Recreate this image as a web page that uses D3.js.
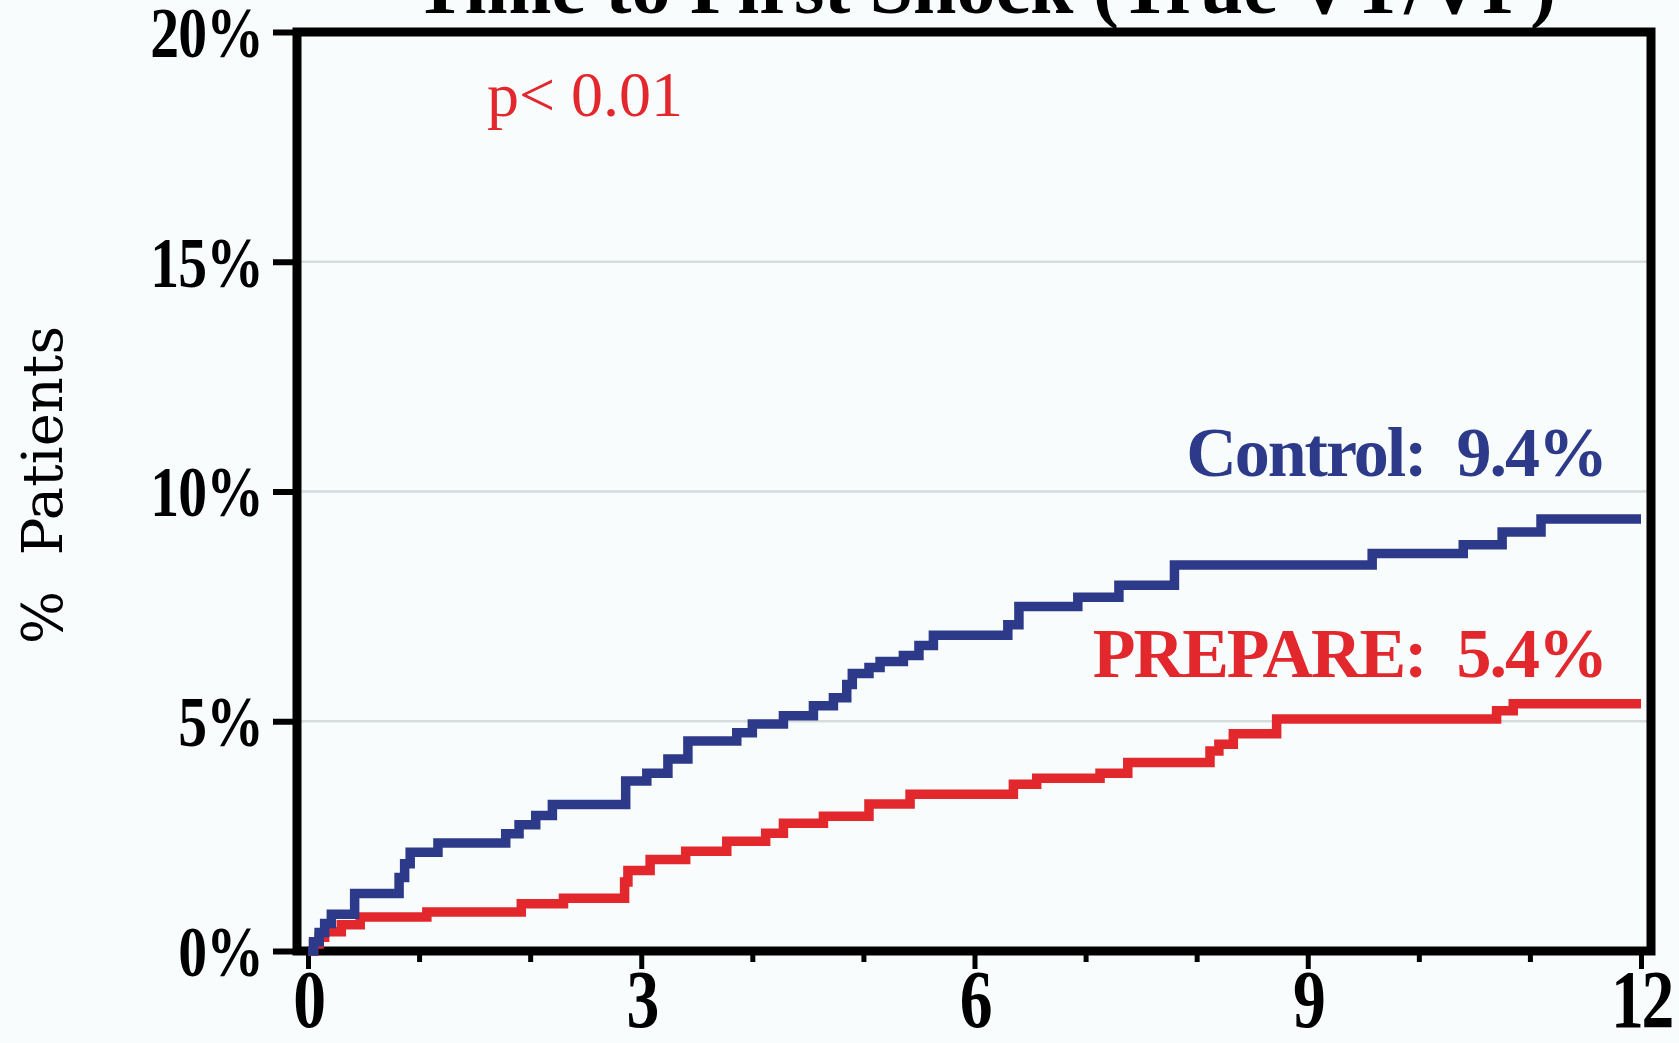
<!DOCTYPE html>
<html>
<head>
<meta charset="utf-8">
<script src="https://cdn.jsdelivr.net/npm/d3@7"></script>
<style>
  body { margin: 0; background: #f9fcfd; }
  svg { display: block; }
</style>
</head>
<body>
<div id="canvas"></div>
<script>
"use strict"

/* ---------- data: months since randomisation, cumulative % shocked (step after) ---------- */
let controlMonths = [0, 0.05, 0.1, 0.15, 0.21, 0.42, 0.82, 0.87, 0.92, 1.17, 1.78, 1.9, 2.05, 2.2,
  2.86, 3.05, 3.24, 3.42, 3.86, 4.0, 4.28, 4.55, 4.73, 4.85, 4.9, 5.05, 5.15, 5.36, 5.5, 5.63,
  6.3, 6.4, 6.93, 7.3, 7.8, 9.58, 10.4, 10.75, 11.1, 12];
let controlPct = [0, 0.2, 0.4, 0.6, 0.8, 1.25, 1.6, 1.9, 2.15, 2.35, 2.55, 2.75, 2.95, 3.19,
  3.7, 3.87, 4.18, 4.57, 4.75, 4.94, 5.12, 5.34, 5.51, 5.8, 6.04, 6.17, 6.3, 6.43, 6.65, 6.87,
  7.1, 7.5, 7.7, 7.96, 8.4, 8.65, 8.84, 9.12, 9.4, 9.4];

let prepareMonths = [0, 0.05, 0.1, 0.15, 0.3, 0.47, 1.07, 1.92, 2.3, 2.85, 2.88, 3.08, 3.4, 3.77,
  4.12, 4.28, 4.64, 5.05, 5.42, 6.35, 6.56, 7.13, 7.38, 8.12, 8.2, 8.33, 8.72, 10.7, 10.85, 12];
let preparePct = [0, 0.15, 0.3, 0.42, 0.57, 0.74, 0.85, 1.03, 1.15, 1.5, 1.75, 1.99, 2.17, 2.39,
  2.56, 2.78, 2.93, 3.2, 3.41, 3.63, 3.76, 3.87, 4.1, 4.35, 4.5, 4.73, 5.05, 5.23, 5.38, 5.38];

let xTicks = d3.range(0, 13);
let xLabels = [0, 3, 6, 9, 12];
let yTicks = [0, 5, 10, 15, 20];

let titleText = "Time to First Shock (True VT/VF)";
let yTitle = "%  Patients";
let pText = "p< 0.01";
let controlLabel = "Control:  9.4%";
let prepareLabel = "PREPARE:  5.4%";

let blue = "#2d3a8a";
let red = "#e2282d";

/* ---------- canvas ---------- */
let W = 1679, H = 1043;
let drawing = d3.select("#canvas").append("svg")
  .attr("width", W).attr("height", H);

let frame = { left: 297, right: 1651, top: 32, bottom: 951 };

let x = d3.scaleLinear().domain([0, 12]).range([308, 1641]);
let y = d3.scaleLinear().domain([0, 20]).range([frame.bottom, frame.top]);

let serif = "'Liberation Serif', 'Times New Roman', serif";
let squeeze = 0.8; // source type is a condensed bold serif

/* title, mostly cut off by the top edge as in the source */
drawing.append("text")
  .attr("x", 985).attr("y", 13)
  .attr("text-anchor", "middle")
  .attr("font-family", serif).attr("font-weight", "bold")
  .attr("font-size", 78)
  .text(titleText);

/* plot background */
drawing.append("rect")
  .attr("x", frame.left).attr("y", frame.top)
  .attr("width", frame.right - frame.left).attr("height", frame.bottom - frame.top)
  .attr("fill", "#f8fcfd");

/* gridlines */
drawing.append("g").selectAll("line")
  .data(yTicks.filter(d => d > 0 && d < 20))
  .join("line")
  .attr("x1", frame.left).attr("x2", frame.right)
  .attr("y1", d => y(d)).attr("y2", d => y(d))
  .attr("stroke", "#d6dcdd").attr("stroke-width", 2.5);

/* y axis */
let yAxis = drawing.append("g")
  .attr("transform", `translate(${frame.left},0)`)
  .call(d3.axisLeft(y).tickValues(yTicks).tickSize(24).tickFormat(d => d + "%"));
yAxis.select(".domain").remove();
yAxis.selectAll(".tick line").attr("stroke", "black").attr("stroke-width", 6);
yAxis.selectAll(".tick text")
  .attr("font-family", serif).attr("font-weight", "bold")
  .attr("font-size", 72).attr("letter-spacing", -1)
  .attr("x", -34 / squeeze)
  .attr("transform", `scale(${squeeze},1)`)
  .attr("dy", "0.34em").attr("fill", "black");

/* x axis: a tick every month, labels every 3 */
let xAxis = drawing.append("g")
  .attr("transform", `translate(0,${frame.bottom})`)
  .call(d3.axisBottom(x).tickValues(xTicks).tickSize(16)
    .tickFormat(d => xLabels.includes(d) ? d : ""));
xAxis.select(".domain").remove();
xAxis.selectAll(".tick line")
  .attr("stroke", "black").attr("stroke-width", 5)
  .attr("y2", d => xLabels.includes(d) ? 18 : 11);
xAxis.selectAll(".tick text")
  .attr("font-family", serif).attr("font-weight", "bold")
  .attr("font-size", 82).attr("letter-spacing", -3)
  .attr("transform", `scale(${squeeze},1)`)
  .attr("y", 76).attr("dy", 0).attr("fill", "black");

/* frame */
drawing.append("rect")
  .attr("x", frame.left).attr("y", frame.top)
  .attr("width", frame.right - frame.left).attr("height", frame.bottom - frame.top)
  .attr("fill", "none").attr("stroke", "black").attr("stroke-width", 9);

/* curves */
let stepLine = d3.line()
  .x(d => x(d[0]))
  .y(d => y(d[1]))
  .curve(d3.curveStepAfter);

drawing.append("path")
  .datum(d3.zip(prepareMonths, preparePct))
  .attr("d", stepLine)
  .attr("fill", "none").attr("stroke", red).attr("stroke-width", 9.5);

drawing.append("path")
  .datum(d3.zip(controlMonths, controlPct))
  .attr("d", stepLine)
  .attr("fill", "none").attr("stroke", blue).attr("stroke-width", 9.5);

/* annotations */
drawing.append("text")
  .attr("x", 487).attr("y", 116)
  .attr("font-family", serif).attr("font-size", 64)
  .attr("fill", red)
  .text(pText);

drawing.append("text")
  .attr("x", 1606).attr("y", 476)
  .attr("text-anchor", "end")
  .attr("font-family", serif).attr("font-weight", "bold").attr("font-size", 70)
  .attr("letter-spacing", -2)
  .style("white-space", "pre")
  .attr("fill", blue)
  .text(controlLabel);

drawing.append("text")
  .attr("x", 1606).attr("y", 677)
  .attr("text-anchor", "end")
  .attr("font-family", serif).attr("font-weight", "bold").attr("font-size", 70)
  .attr("letter-spacing", -2)
  .style("white-space", "pre")
  .attr("fill", red)
  .text(prepareLabel);

/* y title */
drawing.append("text")
  .attr("transform", "translate(62,485) rotate(-90)")
  .attr("text-anchor", "middle")
  .attr("font-family", "'DejaVu Serif', serif").attr("font-size", 56)
  .style("white-space", "pre")
  .attr("fill", "black")
  .text(yTitle);
</script>
</body>
</html>
